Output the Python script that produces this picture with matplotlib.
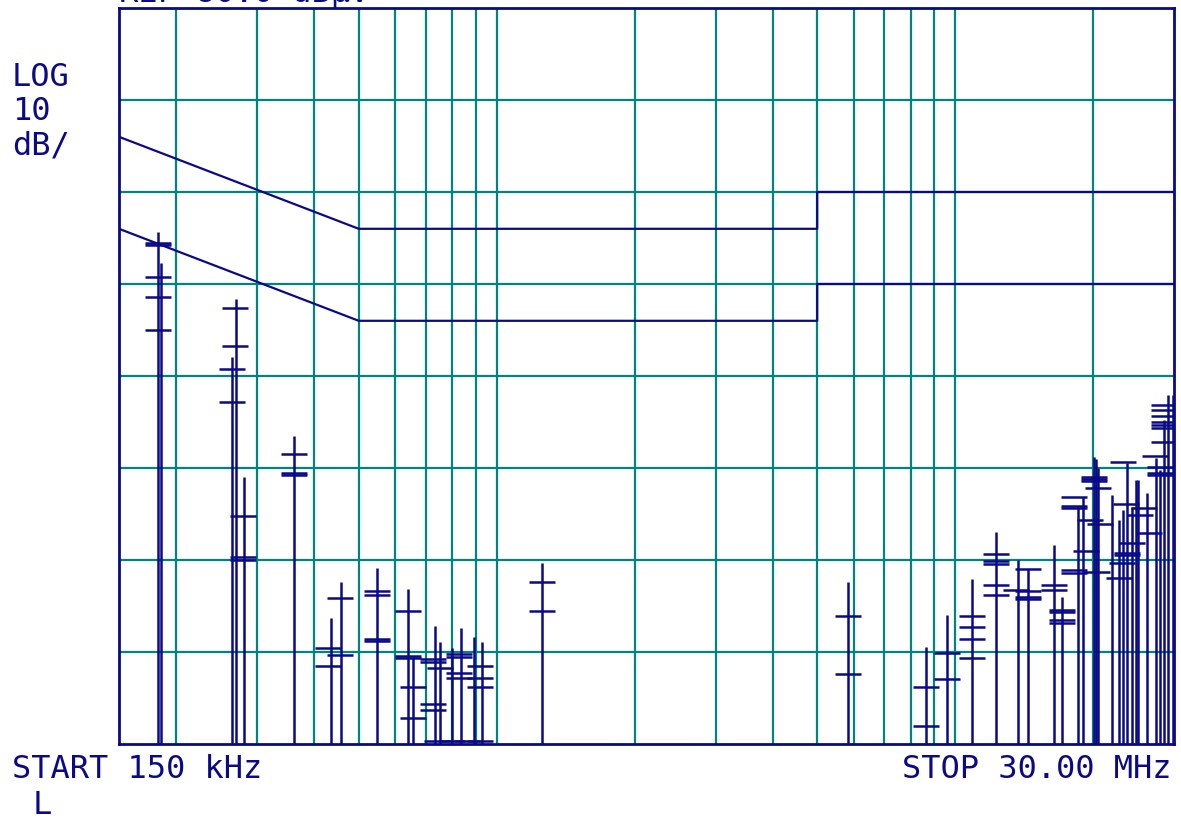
import matplotlib
matplotlib.use("Agg")
import matplotlib.pyplot as plt

# conducted emission scan, 150 kHz - 30 MHz, levels in dBuV
lim_freq = [0.15, 0.5, 5.0, 5.0, 30.0]
qp_limit = [66, 56, 56, 60, 60]
av_limit = [56, 46, 46, 50, 50]

# emission lines (MHz, dBuV)
stem_freq = [0.182, 0.185, 0.265, 0.270, 0.281, 0.361, 0.435, 0.457, 0.548,
             0.640, 0.657, 0.733, 0.752, 0.799, 0.836, 0.892, 0.928, 1.255,
             5.83, 8.63, 9.59, 10.9, 12.3, 13.7, 14.4, 16.4, 17.1,
             18.5, 19.0, 20.1, 20.3, 20.5, 22.0, 22.8, 23.2, 23.7, 24.3,
             24.8, 25.0, 26.2, 27.4, 27.9, 28.5, 29.1, 29.9]
stem_level = [55.7, 52.3, 42.1, 48.4, 29.0, 33.5, 13.7, 17.6, 19.1,
              16.8, 9.5, 12.8, 11.1, 10.4, 12.6, 11.6, 11.1, 19.7,
              17.6, 10.5, 14.0, 17.9, 23.0, 20.0, 19.0, 21.6, 16.0,
              25.8, 26.8, 31.2, 31.0, 30.0, 27.1, 24.3, 25.4, 30.5, 25.8,
              28.7, 28.7, 27.3, 31.1, 29.8, 35.2, 37.9, 37.9]

# marker ticks on the lines (MHz, dBuV)
tick_freq = [0.182, 0.182, 0.182, 0.182, 0.182,
             0.268, 0.268, 0.265, 0.265, 0.279, 0.279, 0.279,
             0.361, 0.361, 0.361, 0.428, 0.428, 0.455, 0.455,
             0.548, 0.548, 0.548, 0.548,
             0.640, 0.640, 0.640, 0.657, 0.657,
             0.726, 0.726, 0.752, 0.829, 0.829, 0.829, 0.829, 0.92, 0.92, 0.92,
             0.726, 0.726, 0.74, 0.80, 0.86, 0.92,
             1.255, 1.255, 5.83, 5.83, 8.63, 8.63, 9.59, 9.59,
             10.9, 10.9, 10.9, 10.9, 12.3, 12.3, 12.3, 12.3, 12.3,
             14.4, 13.6, 14.4, 14.4, 14.4, 16.4, 16.4, 17.1, 17.1, 17.1, 17.1,
             20.1, 20.1, 20.1, 20.5, 18.2, 18.2, 18.2, 19.7, 20.7, 19.3, 18.2, 18.2, 20.4,
             23.2, 23.6, 25.8, 25.3, 26.4, 24.3, 23.7, 23.7, 23.1, 22.8,
             27.3, 27.9, 27.9, 27.9,
             28.6, 28.6, 28.6, 28.6, 28.6, 28.6, 28.6]
tick_level = [54.5, 54.2, 50.8, 48.6, 45.0,
              47.4, 43.3, 40.8, 37.2, 24.8, 20.3, 20.0,
              31.5, 29.5, 29.2, 10.4, 8.5, 15.9, 9.7,
              16.6, 16.2, 11.4, 11.2,
              14.5, 9.6, 9.3, 6.2, 2.8,
              9.2, 8.9, 8.3, 9.8, 9.5, 7.7, 7.2, 8.5, 7.2, 6.2,
              4.3, 3.7, 0.3, 0.3, 0.3, 0.3,
              17.6, 14.5, 13.9, 7.6, 6.2, 2.0, 9.9, 7.1,
              13.9, 12.7, 11.4, 9.3, 20.7, 19.9, 19.6, 17.3, 16.2,
              19.0, 16.7, 16.6, 16.0, 15.8, 17.3, 16.7, 14.6, 14.3, 13.5, 13.2,
              29.0, 28.8, 28.6, 27.8, 26.8, 25.9, 25.6, 24.3, 23.9, 21.0, 18.9, 18.6, 18.7,
              30.7, 26.1, 25.7, 24.9, 22.9, 21.8, 20.8, 20.5, 19.7, 18.0,
              31.3, 30.1, 29.5, 29.2,
              36.8, 36.3, 35.7, 35.0, 34.7, 34.3, 32.8]

grid_freq = [0.2, 0.3, 0.4, 0.5, 0.6, 0.7, 0.8, 0.9, 1.0,
             2.0, 3.0, 4.0, 5.0, 6.0, 7.0, 8.0, 9.0, 10.0, 20.0]

ink = "#0a0a88"
teal = "#00847f"

fig = plt.figure(figsize=(11.81, 8.25), dpi=100)
ax = fig.add_axes([119 / 1181, 1 - 744 / 825, (1174 - 119) / 1181, (744 - 8) / 825])
ax.set_xscale("log")
ax.set_xlim(0.15, 30)
ax.set_ylim(0, 80)

for f in grid_freq:
    ax.axvline(f, color=teal, lw=1.6, zorder=1)
for lvl in range(10, 80, 10):
    ax.axhline(lvl, color=teal, lw=1.6, zorder=1)

ax.plot(lim_freq, qp_limit, color=ink, lw=1.6, zorder=3)
ax.plot(lim_freq, av_limit, color=ink, lw=1.6, zorder=3)

ax.vlines(stem_freq, 0, stem_level, color=ink, lw=1.8, zorder=4)
ax.plot(tick_freq, tick_level, linestyle="none", marker="_", ms=19, mew=1.8,
        color=ink, zorder=4)

ax.set_xticks([])
ax.set_yticks([])
ax.minorticks_off()
for s in ax.spines.values():
    s.set_color(ink)
    s.set_linewidth(2)

font = dict(family="DejaVu Sans Mono", color=ink, fontsize=23)
fig.text(12 / 1181, 1 - 78 / 825, "LOG", va="center", ha="left", **font)
fig.text(12 / 1181, 1 - 112 / 825, "10", va="center", ha="left", **font)
fig.text(12 / 1181, 1 - 146 / 825, "dB/", va="center", ha="left", **font)
fig.text(12 / 1181, 1 - 770 / 825, "START 150 kHz", va="center", ha="left", **font)
fig.text(1172 / 1181, 1 - 770 / 825, "STOP 30.00 MHz", va="center", ha="right", **font)
fig.text(33 / 1181, 1 - 806 / 825, "L", va="center", ha="left", **font)
# header line sits mostly above the page, only its bottom edge shows
fig.text(119 / 1181, 1 - 2 / 825, "REF 80.0 dB\u00b5V", va="baseline", ha="left", **font)

fig.savefig("out.png", dpi=100)
